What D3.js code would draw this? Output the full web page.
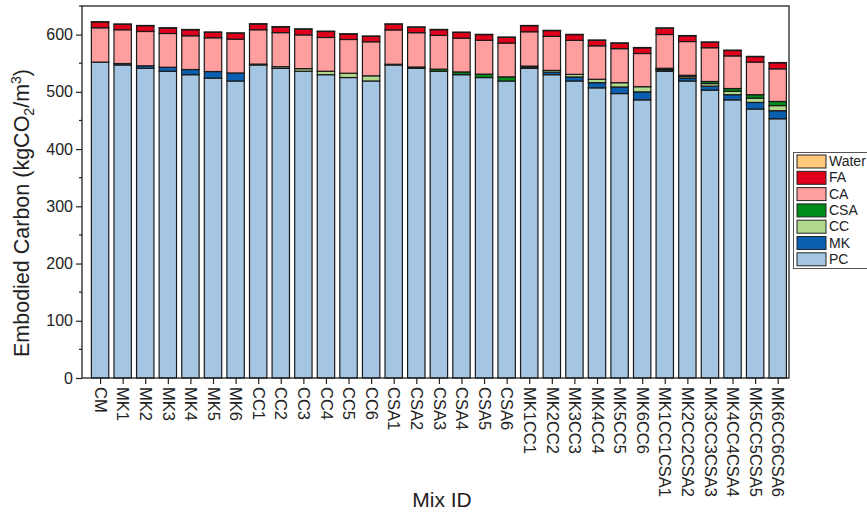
<!DOCTYPE html>
<html><head><meta charset="utf-8">
<script src="https://cdn.jsdelivr.net/npm/d3@7/dist/d3.min.js"></script>
<style>body{margin:0;background:#fff;} svg{display:block;font-family:"Liberation Sans",Arial,sans-serif;}</style>
</head><body>
<svg id="chart" width="867" height="516"></svg>
<script>
const categories = ["CM","MK1","MK2","MK3","MK4","MK5","MK6","CC1","CC2","CC3","CC4","CC5","CC6",
  "CSA1","CSA2","CSA3","CSA4","CSA5","CSA6","MK1CC1","MK2CC2","MK3CC3","MK4CC4","MK5CC5","MK6CC6",
  "MK1CC1CSA1","MK2CC2CSA2","MK3CC3CSA3","MK4CC4CSA4","MK5CC5CSA5","MK6CC6CSA6"];
const PC  = [552, 547,541,536,530,524,519, 547,541,536,530,525,519, 547,541,536,530,525,519, 541,530,519,507,497,486, 536,519,503,486,470,453];
const MK  = [0, 2.5,4.5,7,9,11.5,14, 0,0,0,0,0,0, 0,0,0,0,0,0, 2.5,4.5,7,9,11.5,14, 2.5,4.5,7,9,11.5,14];
const CC  = [0, 0,0,0,0,0,0, 1.5,3,4.5,6,7.5,9, 0,0,0,0,0,0, 1.5,3,4.5,6,7.5,9, 1.5,3,4.5,6,7.5,9];
const CSA = [0, 0,0,0,0,0,0, 0,0,0,0,0,0, 1.2,2.4,3.6,4.8,6,7.2, 0,0,0,0,0,0, 1.2,2.4,3.6,4.8,6,7.2];
const CA  = [60, 59,60,59,59,59,59, 60,59.5,59,59,59,59.5, 60,60,59,59,59,59, 60,59.5,59.5,58.5,59.5,58, 59,59,59,57,57,57];
const FA  = [10, 9.5,10,9.5,10.5,9.5,10.5, 10,10,10,10.5,9.5,9.5, 10,9.5,10,10,10,10, 10.5,10,10,9.5,9.5,10, 11,10,9.5,9.5,9.5,10.5];
const Water = [0.5,0.5,0.5,0.5,0.5,0.5,0.5,0.5,0.5,0.5,0.5,0.5,0.5,0.5,0.5,0.5,0.5,0.5,0.5,0.5,0.5,0.5,0.5,0.5,0.5,0.5,0.5,0.5,0.5,0.5,0.5];
const seriesNames = ["PC","MK","CC","CSA","CA","FA","Water"];
const seriesColors = ["#a4c6e3","#0b5fb0","#b1d98d","#008c1a","#ff9e9e","#e0001b","#ffc87a"];
const yTicks = [0,100,200,300,400,500,600];

const seriesData = {PC, MK, CC, CSA, CA, FA, Water};
const table = categories.map((c,i)=>{const o={cat:c,idx:i+1}; seriesNames.forEach(s=>o[s]=seriesData[s][i]); return o;});
const stack = d3.stack().keys(seriesNames)(table);

const svg = d3.select("#chart");
const L=82, R=789, T=6, B=378;
const x = d3.scaleLinear().domain([0.2,31.5]).range([L,R]);
const y = d3.scaleLinear().domain([0,650]).range([B,T]);
const bw = (x(1)-x(0))*0.77;

const g = svg.append("g");
stack.forEach((layer,si)=>{
  g.append("g").selectAll("rect").data(layer).join("rect")
    .attr("x",d=>x(d.data.idx)-bw/2)
    .attr("y",d=>y(d[1]))
    .attr("width",bw)
    .attr("height",d=>Math.max(0,y(d[0])-y(d[1])))
    .attr("fill",seriesColors[si])
    .attr("stroke","#1a1a1a").attr("stroke-width",1.2);
});

// frame
svg.append("rect").attr("x",L).attr("y",T).attr("width",R-L).attr("height",B-T)
  .attr("fill","none").attr("stroke","#222").attr("stroke-width",1.3);

// y axis
const yAx = svg.append("g").attr("transform",`translate(${L},0)`)
  .call(d3.axisLeft(y).tickValues(yTicks).tickSize(6).tickPadding(3));
yAx.select(".domain").remove();
yAx.selectAll("text").attr("font-size",16).attr("fill","#222");
yAx.selectAll("line").attr("stroke","#222").attr("stroke-width",1.2);
const minor = d3.range(50,700,100);
svg.append("g").selectAll("line").data(minor).join("line")
  .attr("x1",L-3).attr("x2",L).attr("y1",d=>y(d)).attr("y2",d=>y(d))
  .attr("stroke","#222").attr("stroke-width",1.2);

// x axis
const xAx = svg.append("g").attr("transform",`translate(0,${B})`)
  .call(d3.axisBottom(x).tickValues(d3.range(1,32)).tickFormat(d=>categories[d-1]).tickSize(6));
xAx.select(".domain").remove();
xAx.selectAll("line").attr("stroke","#222").attr("stroke-width",1.2);
xAx.selectAll("text").attr("font-size",16.5).attr("fill","#222")
  .attr("transform","rotate(90)").attr("text-anchor","start")
  .attr("x",9).attr("y",0).attr("dy","0.35em");

// axis titles
svg.append("text").attr("x",442).attr("y",507).attr("text-anchor","middle")
  .attr("font-size",21).attr("fill","#222").text("Mix ID");
const yt = svg.append("text").attr("transform","translate(29,213) rotate(-90)")
  .attr("text-anchor","middle").attr("font-size",21.5).attr("fill","#222");
yt.append("tspan").text("Embodied Carbon (kgCO");
yt.append("tspan").attr("font-size",14).attr("dy",5).text("2");
yt.append("tspan").attr("dy",-5).text("/m");
yt.append("tspan").attr("font-size",14).attr("dy",-8).text("3");
yt.append("tspan").attr("dy",8).text(")");

// legend
const lg = svg.append("g");
lg.append("rect").attr("x",793.5).attr("y",152.5).attr("width",90).attr("height",116)
  .attr("fill","#fff").attr("stroke","#555").attr("stroke-width",1);
const legOrder = seriesNames.map((n,i)=>({n,c:seriesColors[i]})).reverse();
legOrder.forEach((d,i)=>{
  const yy = 155 + i*16.3;
  lg.append("rect").attr("x",797).attr("y",yy).attr("width",29).attr("height",13)
    .attr("fill",d.c).attr("stroke","#222").attr("stroke-width",1);
  lg.append("text").attr("x",829).attr("y",yy+11).attr("font-size",14).attr("fill","#222").text(d.n);
});
</script>
</body></html>
